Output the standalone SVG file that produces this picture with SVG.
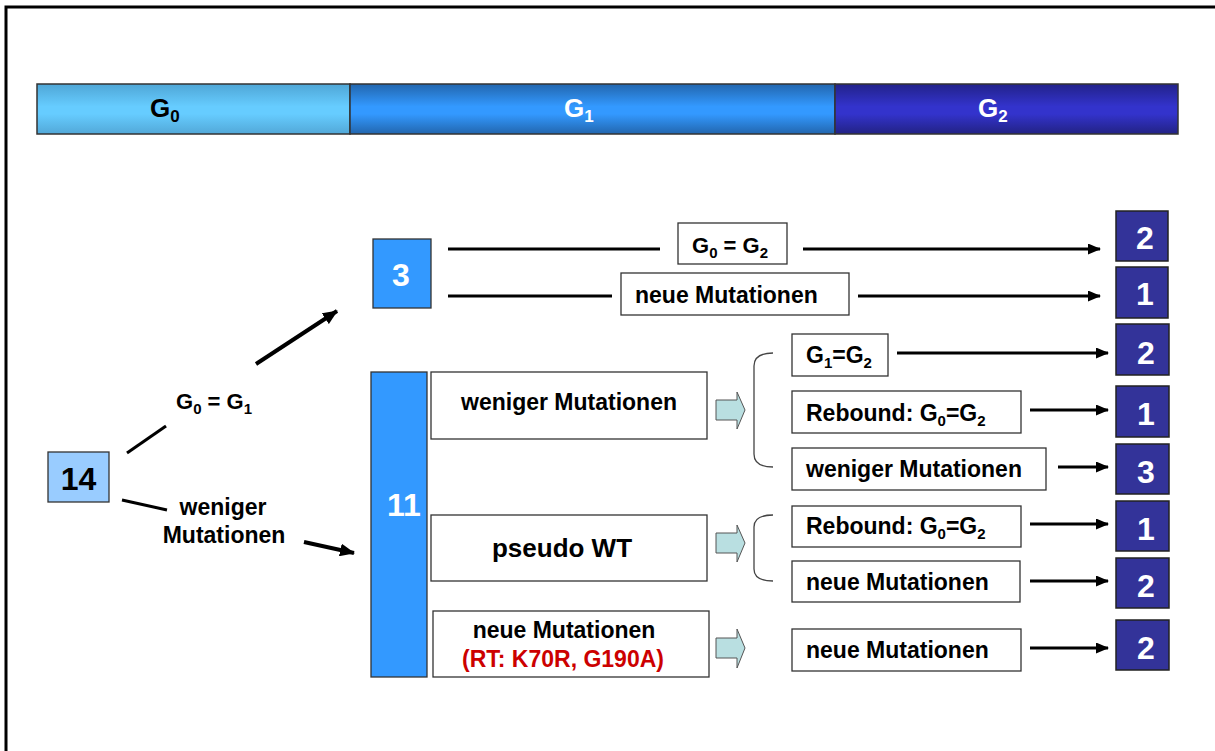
<svg xmlns="http://www.w3.org/2000/svg" width="1215" height="751" viewBox="0 0 1215 751">
<style>
text{font-family:"Liberation Sans",Arial,sans-serif;font-weight:bold;}
.bx{fill:#fff;stroke:#333;stroke-width:1.3;}
.t{font-size:23px;fill:#000;}
.sub{font-size:15px;}
.bsub{font-size:17px;}
.num{font-size:32px;fill:#fff;text-anchor:middle;}
.dk{fill:#333399;stroke:#222;stroke-width:1.5;}
.ln{stroke:#000;stroke-width:3;fill:none;}
.ba{fill:#B9DFE1;stroke:#555;stroke-width:1;}
.br{fill:none;stroke:#444;stroke-width:1.3;}
</style>
<defs>
<linearGradient id="g0" x1="0" y1="0" x2="0" y2="1"><stop offset="0" stop-color="#4FA6D6"/><stop offset="0.45" stop-color="#66CCFF"/><stop offset="0.6" stop-color="#66CCFF"/><stop offset="1" stop-color="#52A8D8"/></linearGradient>
<linearGradient id="g1" x1="0" y1="0" x2="0" y2="1"><stop offset="0" stop-color="#2266AE"/><stop offset="0.45" stop-color="#3399FF"/><stop offset="0.6" stop-color="#3399FF"/><stop offset="1" stop-color="#2266AE"/></linearGradient>
<linearGradient id="g2" x1="0" y1="0" x2="0" y2="1"><stop offset="0" stop-color="#22228A"/><stop offset="0.45" stop-color="#3333CC"/><stop offset="0.6" stop-color="#3333CC"/><stop offset="1" stop-color="#222284"/></linearGradient>
<marker id="ah" markerUnits="userSpaceOnUse" markerWidth="13" markerHeight="11" refX="12" refY="5.5" orient="auto"><path d="M0,0 L13,5.5 L0,11 z" fill="#000"/></marker>
<marker id="ah2" markerUnits="userSpaceOnUse" markerWidth="15" markerHeight="13" refX="14" refY="6.5" orient="auto"><path d="M0,0 L15,6.5 L0,13 z" fill="#000"/></marker>
</defs>
<rect x="0" y="0" width="1215" height="751" fill="#fff"/>
<rect x="6" y="7" width="1230" height="800" fill="none" stroke="#000" stroke-width="3"/>

<g id="bar">
<rect x="37" y="84" width="313" height="50" fill="url(#g0)" stroke="#333" stroke-width="1.5"/>
<rect x="350" y="84" width="485" height="50" fill="url(#g1)" stroke="#333" stroke-width="1.5"/>
<rect x="835" y="84" width="343" height="50" fill="url(#g2)" stroke="#333" stroke-width="1.5"/>
<text x="150" y="117" style="font-size:26px">G<tspan class="bsub" dy="5">0</tspan></text>
<text x="564" y="117" style="font-size:26px" fill="#fff">G<tspan class="bsub" dy="5">1</tspan></text>
<text x="978" y="117" style="font-size:26px" fill="#fff">G<tspan class="bsub" dy="5">2</tspan></text>
</g>

<g id="connectors">
<line class="ln" x1="127" y1="453" x2="166" y2="426"/>
<line class="ln" x1="256" y1="364" x2="337" y2="311" style="stroke-width:4" marker-end="url(#ah2)"/>
<line class="ln" x1="122" y1="500" x2="167" y2="510"/>
<line class="ln" x1="304" y1="542" x2="354" y2="553" style="stroke-width:4" marker-end="url(#ah2)"/>
<line class="ln" x1="448" y1="249" x2="660" y2="249"/>
<line class="ln" x1="803" y1="249" x2="1100" y2="249" marker-end="url(#ah)"/>
<line class="ln" x1="448" y1="296" x2="612" y2="296"/>
<line class="ln" x1="858" y1="296" x2="1100" y2="296" marker-end="url(#ah)"/>
<line class="ln" x1="897" y1="353" x2="1108" y2="353" marker-end="url(#ah)"/>
<line class="ln" x1="1030" y1="410" x2="1108" y2="410" marker-end="url(#ah)"/>
<line class="ln" x1="1058" y1="467" x2="1108" y2="467" marker-end="url(#ah)"/>
<line class="ln" x1="1030" y1="524" x2="1108" y2="524" marker-end="url(#ah)"/>
<line class="ln" x1="1030" y1="581" x2="1108" y2="581" marker-end="url(#ah)"/>
<line class="ln" x1="1030" y1="648" x2="1108" y2="648" marker-end="url(#ah)"/>
<polygon class="ba" points="716,400 737,400 737,392 745,410 737,429 737,420 716,420"/>
<polygon class="ba" points="716,533 737,533 737,525 745,543 737,562 737,553 716,553"/>
<polygon class="ba" points="716,638 737,638 737,629 745,648 737,668 737,658 716,658"/>
<path class="br" d="M773,353 Q754,353 754,366 L754,454 Q754,467 773,467"/>
<path class="br" d="M773,515 Q754,515 754,527 L754,569 Q754,581 773,581"/>
</g>

<g id="n14"><rect x="48" y="452" width="61" height="50" fill="#99CCFF" stroke="#333" stroke-width="1.3"/><text x="78.5" y="490" class="num" style="fill:#000">14</text></g>
<g id="lbl-g0g1"><text x="176" y="409" class="t" style="font-size:22px">G<tspan class="sub" dy="5">0</tspan><tspan dy="-5"> = G</tspan><tspan class="sub" dy="5">1</tspan></text></g>
<g id="lbl-weniger"><text x="223" y="515" class="t" text-anchor="middle">weniger</text><text x="224" y="543" class="t" text-anchor="middle">Mutationen</text></g>

<g id="n3"><rect x="373" y="239" width="58" height="69" fill="#3399FF" stroke="#333" stroke-width="1.3"/><text x="401" y="286" class="num">3</text></g>
<g id="n11"><rect x="371" y="372" width="56" height="305" fill="#3399FF" stroke="#333" stroke-width="1.3"/><text x="404" y="516" class="num">11</text></g>

<g id="b-g0g2"><rect class="bx" x="678" y="223" width="109" height="41"/><text x="692" y="253" class="t" style="font-size:22px">G<tspan class="sub" dy="5">0</tspan><tspan dy="-5"> = G</tspan><tspan class="sub" dy="5">2</tspan></text></g>
<g id="b-neue1"><rect class="bx" x="621" y="273" width="228" height="42"/><text x="635" y="303" class="t">neue Mutationen</text></g>

<g id="b-weniger"><rect class="bx" x="431" y="372" width="276" height="67"/><text x="569" y="410" class="t" text-anchor="middle">weniger Mutationen</text></g>
<g id="b-pseudo"><rect class="bx" x="431" y="515" width="276" height="66"/><text x="562" y="557" class="t" text-anchor="middle" style="font-size:26px">pseudo WT</text></g>
<g id="b-neue-rt"><rect class="bx" x="433" y="611" width="276" height="66"/><text x="564" y="638" class="t" text-anchor="middle">neue Mutationen</text><text x="563" y="667" class="t" text-anchor="middle" style="fill:#CC0000">(RT: K70R, G190A)</text></g>

<g id="b-g1g2"><rect class="bx" x="792" y="334" width="96" height="42"/><text x="806" y="363" class="t">G<tspan class="sub" dy="5">1</tspan><tspan dy="-5">=G</tspan><tspan class="sub" dy="5">2</tspan></text></g>
<g id="b-reb1"><rect class="bx" x="792" y="391" width="229" height="42"/><text x="806" y="421" class="t">Rebound: G<tspan class="sub" dy="5">0</tspan><tspan dy="-5">=G</tspan><tspan class="sub" dy="5">2</tspan></text></g>
<g id="b-wen2"><rect class="bx" x="792" y="448" width="254" height="42"/><text x="806" y="477" class="t">weniger Mutationen</text></g>
<g id="b-reb2"><rect class="bx" x="792" y="506" width="229" height="41"/><text x="806" y="534" class="t">Rebound: G<tspan class="sub" dy="5">0</tspan><tspan dy="-5">=G</tspan><tspan class="sub" dy="5">2</tspan></text></g>
<g id="b-neue2"><rect class="bx" x="792" y="561" width="228" height="41"/><text x="806" y="590" class="t">neue Mutationen</text></g>
<g id="b-neue3"><rect class="bx" x="792" y="629" width="229" height="42"/><text x="806" y="658" class="t">neue Mutationen</text></g>

<g id="r1"><rect class="dk" x="1116" y="211" width="52" height="50"/><text x="1145" y="249" class="num">2</text></g>
<g id="r2"><rect class="dk" x="1116" y="267" width="52" height="51"/><text x="1145" y="305" class="num">1</text></g>
<g id="r3"><rect class="dk" x="1116" y="324" width="53" height="51"/><text x="1146" y="364" class="num">2</text></g>
<g id="r4"><rect class="dk" x="1116" y="386" width="53" height="51"/><text x="1146" y="425" class="num">1</text></g>
<g id="r5"><rect class="dk" x="1116" y="444" width="53" height="50"/><text x="1146" y="483" class="num">3</text></g>
<g id="r6"><rect class="dk" x="1116" y="501" width="53" height="50"/><text x="1146" y="540" class="num">1</text></g>
<g id="r7"><rect class="dk" x="1116" y="558" width="53" height="50"/><text x="1146" y="597" class="num">2</text></g>
<g id="r8"><rect class="dk" x="1116" y="620" width="53" height="50"/><text x="1146" y="659" class="num">2</text></g>
</svg>
